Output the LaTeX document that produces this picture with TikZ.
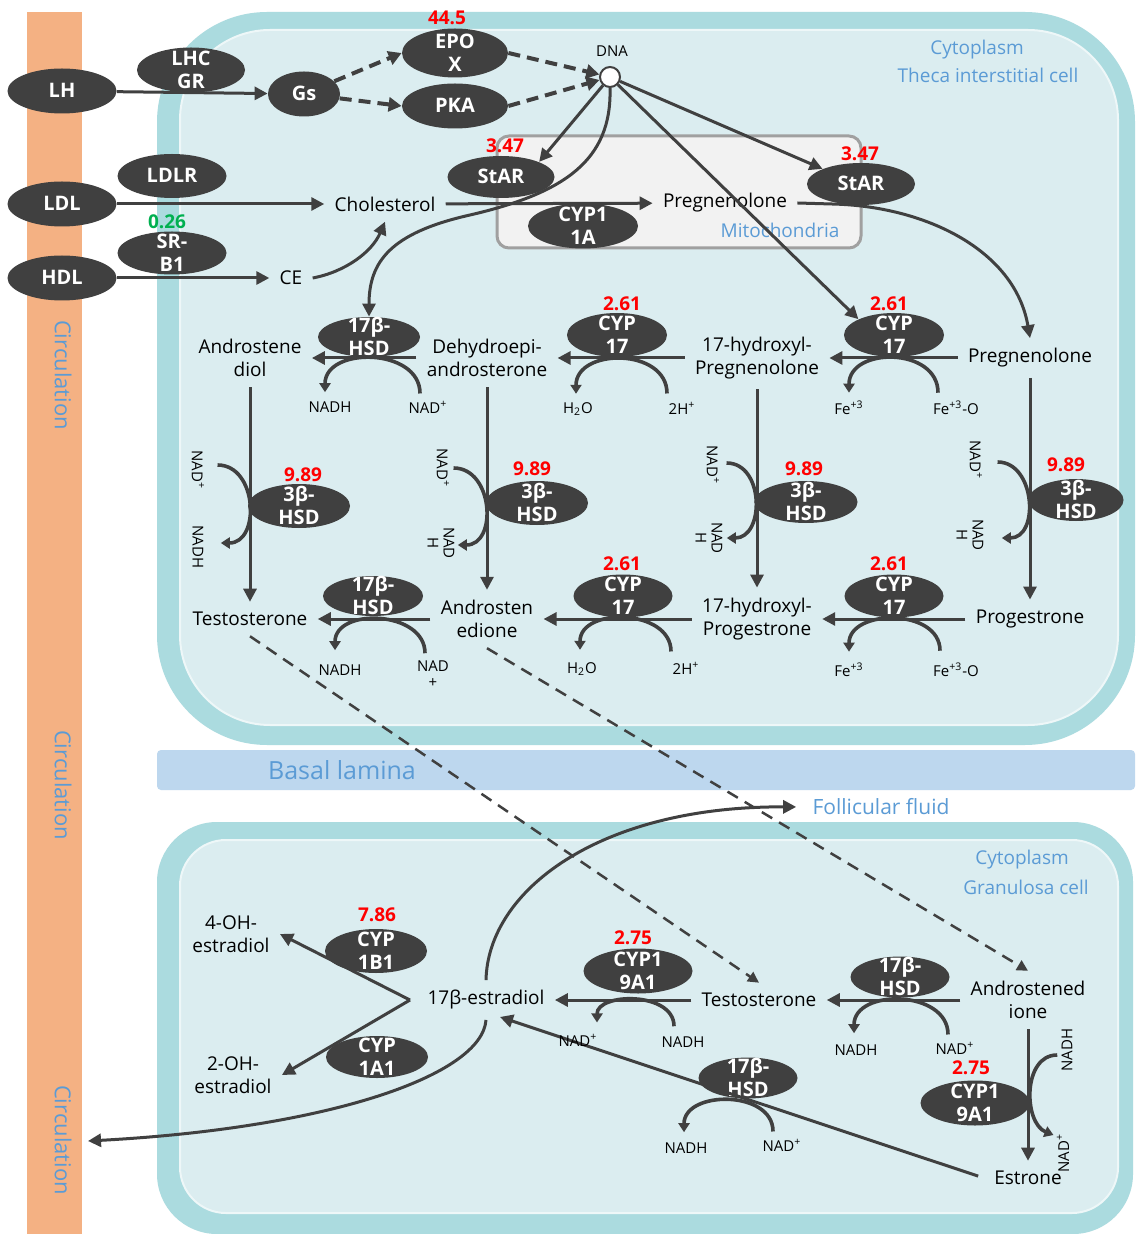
\documentclass[tikz,border=0pt]{standalone}
\usepackage{fontspec}
\setmainfont{Open Sans}
\usetikzlibrary{shapes.geometric,arrows.meta,calc}
\definecolor{enzc}{RGB}{64,64,64}
\definecolor{linec}{RGB}{64,64,64}
\definecolor{orangec}{RGB}{244,177,131}
\definecolor{tealc}{RGB}{171,219,223}
\definecolor{cellc}{RGB}{219,237,240}
\definecolor{rimc}{RGB}{238,247,248}
\definecolor{basalc}{RGB}{189,215,238}
\definecolor{bluec}{RGB}{91,155,213}
\definecolor{redc}{RGB}{255,0,0}
\definecolor{greenc}{RGB}{0,176,80}
\definecolor{mitofill}{RGB}{242,242,242}
\definecolor{mitodraw}{RGB}{160,160,160}
\newcommand\ez[1]{\makebox[0pt]{\raisebox{-0.36em}[0pt][0pt]{\begin{tabular}{@{}c@{}}#1\end{tabular}}}}
\newcommand\nadp{NAD\textsuperscript{+}}
\begin{document}
\begin{tikzpicture}[x=0.5pt,y=-0.5pt,
 enz/.style={ellipse,fill=enzc,text=white,inner sep=0pt,minimum width=52pt,minimum height=22pt,font=\fontsize{10}{11.5}\selectfont\bfseries},
 txt/.style={inner sep=5pt,align=center,font=\fontsize{9.5}{11.5}\selectfont},
 num/.style={inner sep=0pt,text=redc,font=\fontsize{9.5}{11}\selectfont\bfseries},
 co/.style={inner sep=1pt,align=center,font=\fontsize{7.5}{8}\selectfont},
 bl/.style={inner sep=0pt,text=bluec,align=center,font=\fontsize{9.5}{13}\selectfont},
 arr/.style={draw=linec,line width=1.5pt,-{Triangle[length=6.5pt,width=6.5pt]}},
 darr/.style={draw=linec,line width=2pt,dash pattern=on 6pt off 3.5pt,-{Triangle[length=6.5pt,width=7pt]}},
 tdarr/.style={draw=linec,line width=1.25pt,dash pattern=on 6pt off 4pt,-{Triangle[length=5.5pt,width=5.5pt]}},
 cof/.style={draw=linec,line width=1.8pt,-{Triangle[length=4.5pt,width=5.5pt]}},
]
\useasboundingbox (0,0) rectangle (1135,1234);
\fill[white] (0,0) rectangle (1135,1234);
% backgrounds
\fill[orangec] (27,12) rectangle (82,1234);
\fill[tealc,rounded corners=55pt] (157,12) rectangle (1135,745);
\filldraw[fill=cellc,draw=rimc,line width=1pt,rounded corners=45pt] (180,30) rectangle (1118,725);
\fill[basalc,rounded corners=2pt] (157,750) rectangle (1135,790);
\fill[tealc,rounded corners=30pt] (157,822) rectangle (1133,1234);
\filldraw[fill=cellc,draw=rimc,line width=1pt,rounded corners=23pt] (180,840) rectangle (1118,1213);
\filldraw[fill=mitofill,draw=mitodraw,line width=1.5pt,rounded corners=6pt] (497,136) rectangle (861,248);

% blue labels
\node[bl,rotate=-90,font=\fontsize{11}{13}\selectfont] (circA) at (63,375) {Circulation};
\node[bl,rotate=-90,font=\fontsize{11}{13}\selectfont] (circB) at (63,785) {Circulation};
\node[bl,rotate=-90,font=\fontsize{11}{13}\selectfont] (circC) at (63,1140) {Circulation};
\node[bl] (cyto1) at (977,50) {Cytoplasm};
\node[bl] (theca) at (988,75) {Theca interstitial cell};
\node[bl] (mito) at (780,230) {Mitochondria};
\node[bl,font=\fontsize{12.5}{14}\selectfont] (basal) at (342,770) {Basal lamina};
\node[bl,font=\fontsize{10.5}{12}\selectfont] (FF) at (881,807) {Follicular fluid};
\node[bl] (cyto2) at (1022,860) {Cytoplasm};
\node[bl] (gran) at (1026,887) {Granulosa cell};

% top enzymes
\node[enz,minimum width=54.5pt,minimum height=22.5pt] (LH) at (62,91) {\ez{LH}};
\node[enz,minimum width=54pt,minimum height=22.5pt] (LHCGR) at (191,70) {\ez{LHC\\GR}};
\node[enz,minimum width=36pt,minimum height=22.5pt] (Gs) at (304,94) {\ez{Gs}};
\node[enz,minimum width=53pt,minimum height=24.5pt] (EPOX) at (455,53) {\ez{EPO\\X}};
\node[enz,minimum width=53pt,minimum height=22.5pt] (PKA) at (455,106) {\ez{PKA}};
\node[circle,draw=linec,fill=white,line width=1pt,minimum size=10pt,inner sep=0pt] (DNA) at (610,77) {};
\node[co] (DNAl) at (612,51) {DNA};
\node[enz,minimum width=54.5pt,minimum height=22.5pt] (LDL) at (62,204) {\ez{LDL}};
\node[enz,minimum width=54.5pt,minimum height=22pt] (LDLR) at (172,176) {\ez{LDLR}};
\node[enz,minimum width=54.5pt,minimum height=22.5pt] (HDL) at (62,278) {\ez{HDL}};
\node[enz,minimum width=54.5pt,minimum height=21.5pt] (SRB1) at (172,253) {\ez{SR-\\B1}};
\node[enz,minimum width=53.5pt,minimum height=21pt] (StARa) at (501,177) {\ez{StAR}};
\node[enz,minimum width=55pt,minimum height=22.5pt] (CYP11A) at (583,226) {\ez{CYP1\\1A}};
\node[enz,minimum width=54pt,minimum height=21pt] (StARb) at (861,184) {\ez{StAR}};

% top texts
\node[txt] (Chol) at (385,204) {Cholesterol};
\node[txt] (CE) at (291,278) {CE};
\node[txt] (PregM) at (725,203) {Pregnenolone};

% row 1
\node[txt] (AD) at (250,358) {Androstene\\diol};
\node[enz,minimum width=51pt,minimum height=20pt] (HSDa) at (369,337) {\ez{17β-\\HSD}};
\node[txt] (DHEA) at (487,358) {Dehydroepi-\\androsterone};
\node[enz,minimum width=50pt,minimum height=22pt] (CYPa) at (617,335) {\ez{CYP\\17}};
\node[txt] (OHPreg) at (757,358) {17-hydroxyl-\\Pregnenolone};
\node[enz,minimum width=50pt,minimum height=22pt] (CYPb) at (894,335) {\ez{CYP\\17}};
\node[txt] (Preg) at (1030,358) {Pregnenolone};

% 3beta-HSD
\node[enz,minimum width=51pt,minimum height=22pt] (Ba) at (299,506) {\ez{3β-\\HSD}};
\node[enz,minimum width=51pt,minimum height=22pt] (Bb) at (537,503) {\ez{3β-\\HSD}};
\node[enz,minimum width=51.5pt,minimum height=21pt] (Bc) at (806,502) {\ez{3β-\\HSD}};
\node[enz,minimum width=47.5pt,minimum height=21pt] (Bd) at (1076,500) {\ez{3β-\\HSD}};

% row 2
\node[txt] (Testo) at (250,619) {Testosterone};
\node[enz,minimum width=50pt,minimum height=20pt] (HSDb) at (373,596) {\ez{17β-\\HSD}};
\node[txt] (Andro) at (487,619) {Androsten\\edione};
\node[enz,minimum width=49.5pt,minimum height=21.5pt] (CYPc) at (623,596) {\ez{CYP\\17}};
\node[txt] (OHProg) at (757,619) {17-hydroxyl-\\Progestrone};
\node[enz,minimum width=49.5pt,minimum height=21.5pt] (CYPd) at (894,596) {\ez{CYP\\17}};
\node[txt] (Prog) at (1030,619) {Progestrone};

% lower cell
\node[txt] (OH4) at (231,934) {4-OH-\\estradiol};
\node[txt] (OH2) at (233,1075) {2-OH-\\estradiol};
\node[enz,minimum width=51pt,minimum height=22pt] (C1B1) at (376,951) {\ez{CYP\\1B1}};
\node[enz,minimum width=51pt,minimum height=21pt] (C1A1) at (377,1057) {\ez{CYP\\1A1}};
\node[txt] (E2) at (486,1000) {17β-estradiol};
\node[enz,minimum width=54.5pt,minimum height=22.5pt] (C19a) at (638,971) {\ez{CYP1\\9A1}};
\node[txt] (TestoG) at (759,1000) {Testosterone};
\node[enz,minimum width=49.5pt,minimum height=20.5pt] (HSDc) at (900,977) {\ez{17β-\\HSD}};
\node[txt] (AndroG) at (1028,1000) {Androstened\\ione};
\node[enz,minimum width=54.5pt,minimum height=22.5pt] (C19b) at (975,1103) {\ez{CYP1\\9A1}};
\node[txt] (Estrone) at (1028,1178) {Estrone};
\node[enz,minimum width=49.5pt,minimum height=20.5pt] (HSDd) at (748,1078) {\ez{17β-\\HSD}};
\coordinate (br) at (410,1000);
\coordinate (circ) at (88,1141);

% top arrows
\draw[arr] (LH) -- (Gs);
\draw[darr] (Gs) -- (EPOX.west);
\draw[darr] (Gs) -- (PKA.west);
\draw[darr] (EPOX.east) -- (DNA);
\draw[darr] (PKA.east) -- (DNA);
\draw[arr] (LDL) -- (Chol);
\draw[arr] (HDL) -- (CE);
\draw[arr] (CE.east) .. controls (345,272) and (372,252) .. (Chol.south);
\draw[arr] (Chol) -- (PregM);
\draw[arr] (DNA) -- (StARa.north east);
\draw[arr] (DNA) -- (StARb.north west);
\draw[arr] (DNA) -- (CYPb.north west);
\draw[arr] (DNA.south) .. controls (612,160) and (565,193) .. (470,215) .. controls (390,233) and (369,262) .. (HSDa.north);
\draw[arr] (PregM.east) -- (832,204) .. controls (925,206) and (1015,250) .. (Preg.north);

% horizontal reactions
\draw[arr] (Preg) -- (OHPreg);
\draw[arr] (OHPreg) -- (DHEA);
\draw[arr] (DHEA) -- (AD);
\draw[arr] (Prog) -- (OHProg);
\draw[arr] (OHProg) -- (Andro);
\draw[arr] (Andro) -- (Testo);
% vertical reactions
\draw[arr] (AD) -- (Testo);
\draw[arr] (DHEA) -- (Andro);
\draw[arr] (OHPreg) -- (OHProg);
\draw[arr] (Preg) -- (Prog);

% cofactors row 1
\node[co] (k1L) at (330,407) {NADH};
\node[co] (k1R) at (428,407) {\nadp};
\draw[cof] ($(k1R.north)+(-8,-5)$) .. controls +(0,-46) and +(0,-46) .. ($(k1L.north)+(-5,-7)$);
\node[co] (k2L) at (578,409) {H\textsubscript{2}O};
\node[co] (k2R) at (682,408) {2H\textsuperscript{+}};
\draw[cof] ($(k2R.north)+(-15,-6)$) .. controls +(0,-46) and +(0,-46) .. ($(k2L.north)+(-2,-6)$);
\node[co] (k3L) at (849,408) {Fe\textsuperscript{+3}};
\node[co] (k3R) at (956,408) {Fe\textsuperscript{+3}-O};
\draw[cof] ($(k3R.north)+(-18,-6)$) .. controls +(0,-46) and +(0,-46) .. ($(k3L.north)+(0,-6)$);
% cofactors row 2
\node[co] (k4L) at (340,670) {NADH};
\node[co] (k4R) at (433,674) {NAD\\+};
\draw[cof] ($(k4R.north)+(-8,-5)$) .. controls +(0,-43) and +(0,-43) .. ($(k4L.north)+(-5,-12)$);
\node[co] (k5L) at (582,669) {H\textsubscript{2}O};
\node[co] (k5R) at (686,668) {2H\textsuperscript{+}};
\draw[cof] ($(k5R.north)+(-15,-8)$) .. controls +(0,-43) and +(0,-43) .. ($(k5L.north)+(-2,-10)$);
\node[co] (k6L) at (849,670) {Fe\textsuperscript{+3}};
\node[co] (k6R) at (956,670) {Fe\textsuperscript{+3}-O};
\draw[cof] ($(k6R.north)+(-16,-10)$) .. controls +(0,-43) and +(0,-43) .. ($(k6L.north)+(0,-9)$);

% cofactors of 3beta-HSD columns
\node[co,rotate=-90] (v1a) at (198,470) {\nadp};
\node[co,rotate=-90] (v1b) at (198,547) {NADH};
\draw[cof] ($(v1a.north)+(11,-5)$) .. controls +(40,0) and +(40,0) .. ($(v1b.north)+(15,-4)$);
\node[co,rotate=-90] (v2a) at (443,468) {\nadp};
\node[co,rotate=-90] (v2b) at (441,543) {NAD\\H};
\draw[cof] ($(v2a.north)+(2,0)$) .. controls +(40,0) and +(40,0) .. ($(v2b.north)+(1,2)$);
\node[co,rotate=-90] (v3a) at (713,465) {\nadp};
\node[co,rotate=-90] (v3b) at (709,538) {NAD\\H};
\draw[cof] ($(v3a.north)+(5,-2)$) .. controls +(38,0) and +(38,0) .. ($(v3b.north)+(2,0)$);
\node[co,rotate=-90] (v4a) at (976,460) {\nadp};
\node[co,rotate=-90] (v4b) at (970,535) {NAD\\H};
\draw[cof] ($(v4a.north)+(13,2)$) .. controls +(38,0) and +(38,0) .. ($(v4b.north)+(16,3)$);

% lower cell arrows
\draw[arr] (br) -- (OH4.east);
\draw[arr] (br) -- (OH2.east);
\draw[arr] (TestoG) -- (E2);
\draw[arr] (AndroG) -- (TestoG);
\draw[arr] (AndroG) -- (Estrone);
\draw[arr,shorten <=3pt] (Estrone.west) -- ($(E2.south)+(14,-3)$);
\draw[arr,shorten >=8pt] (E2.north) .. controls (488,890) and (600,806) .. (FF.west);
\draw[arr] (E2.south) .. controls (482,1075) and (330,1128) .. (circ);

% lower cofactors
\node[co] (m1L) at (578,1040) {\nadp};
\node[co] (m1R) at (683,1042) {NADH};
\draw[cof] ($(m1R.north)+(-9,-8)$) .. controls +(0,-35) and +(0,-30) .. ($(m1L.north)+(19,-9)$);
\node[co] (m2L) at (856,1050) {NADH};
\node[co] (m2R) at (955,1048) {\nadp};
\draw[cof] ($(m2R.north)+(-7,-5)$) .. controls +(0,-45) and +(0,-45) .. ($(m2L.north)+(-2,-9)$);
\node[co] (m3L) at (686,1148) {NADH};
\node[co] (m3R) at (782,1145) {\nadp};
\draw[cof] ($(m3R.north)+(-9,-5)$) .. controls +(0,-42) and +(0,-42) .. ($(m3L.north)+(-2,-8)$);
\node[co,rotate=90] (m4a) at (1067,1050) {NADH};
\node[co,rotate=90] (m4b) at (1063,1153) {\nadp};
\draw[cof] ($(m4a.north)+(-2,5)$) .. controls +(-35,0) and +(-30,-12) .. ($(m4b.north)+(-1,-18)$);

% dashed transfers
\draw[tdarr] (Testo.south) -- (TestoG.north);
\draw[tdarr] (Andro.south) -- (AndroG.north);

% numbers
\node[num] (n1) at (447,18) {44.5};
\node[num,text=greenc] (n2) at (167,222) {0.26};
\node[num] (n3) at (505,146) {3.47};
\node[num] (n4) at (860,154) {3.47};
\node[num] (n5) at (622,304) {2.61};
\node[num] (n6) at (889,304) {2.61};
\node[num] (n7) at (303,475) {9.89};
\node[num] (n8) at (532,469) {9.89};
\node[num] (n9) at (804,469) {9.89};
\node[num] (n10) at (1066,465) {9.89};
\node[num] (n11) at (622,564) {2.61};
\node[num] (n12) at (889,564) {2.61};
\node[num] (n13) at (377,915) {7.86};
\node[num] (n14) at (633,938) {2.75};
\node[num] (n15) at (971,1068) {2.75};
\end{tikzpicture}
\end{document}
